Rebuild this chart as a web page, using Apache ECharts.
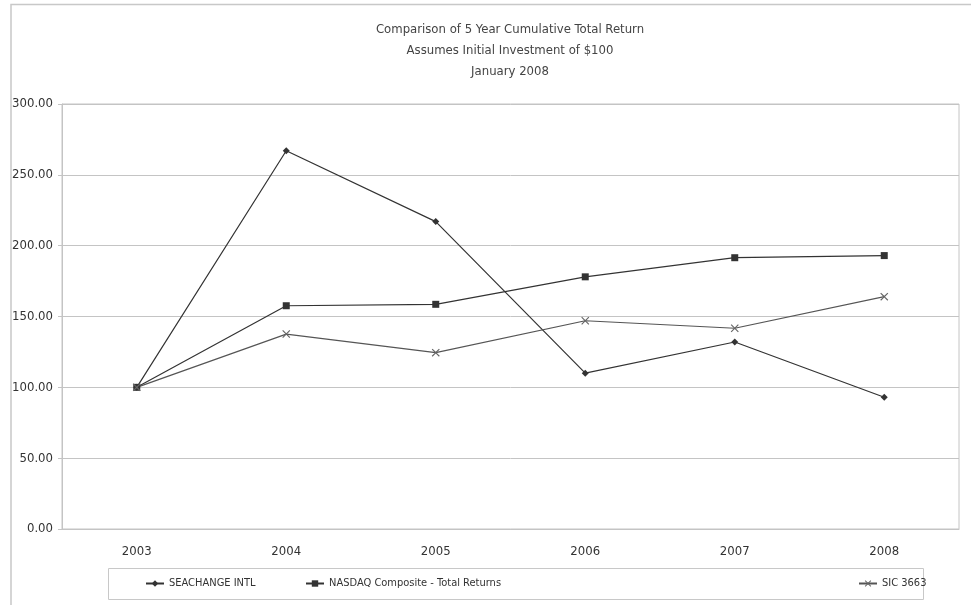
<!DOCTYPE html>
<html lang="en">
<head>
    <meta charset="UTF-8">
    <title>5 Year Cumulative Total Return</title>
    <script src="https://cdn.jsdelivr.net/npm/echarts@6/dist/echarts.min.js"></script>
    <style>
        html, body { margin: 0; padding: 0; background: #fff; }
        #chart { width: 971px; height: 605px; }
    </style>
</head>
<body>
<div id="chart"></div>
<script type="text/javascript">
    // values
    var years = ['2003', '2004', '2005', '2006', '2007', '2008'];
    var seachange = [100, 267, 217, 110, 132, 93];
    var nasdaq = [100, 157.6, 158.6, 178, 191.5, 193];
    var sic3663 = [100, 137.6, 124.5, 147, 141.7, 164];
    var seriesNames = ['SEACHANGE INTL', 'NASDAQ Composite - Total Returns', 'SIC 3663'];

    var font = '"Liberation Sans Narrow", "DejaVu Sans Condensed", sans-serif';
    var gridColor = '#c4c4c4';
    var ink = '#333';
    var xShape = 'path://M0,1L1,0L5,4L9,0L10,1L6,5L10,9L9,10L5,6L1,10L0,9L4,5Z';

    var legendBase = {
        top: 578,
        itemWidth: 18,
        itemHeight: 8,
        padding: 0,
        textStyle: { fontFamily: font, fontSize: 11, color: ink },
        itemGap: 2
    };

    var option = {
        animation: false,
        title: {
            text: 'Comparison of 5 Year Cumulative Total Return\nAssumes Initial Investment of $100\nJanuary 2008',
            left: 505,
            top: 14,
            textAlign: 'center',
            textStyle: { fontFamily: font, fontSize: 13, fontWeight: 'normal', color: '#444', lineHeight: 21 }
        },
        graphic: [
            { type: 'rect', shape: { x: 11, y: 4.5, width: 1000, height: 700 }, style: { fill: 'none', stroke: '#c8c8c8', lineWidth: 1.5 }, silent: true },
            { type: 'rect', shape: { x: 108.5, y: 568.5, width: 815, height: 31 }, style: { fill: 'none', stroke: '#c8c8c8', lineWidth: 1 }, silent: true }
        ],
        legend: [
            Object.assign({ left: 145, data: [seriesNames[0]] }, legendBase),
            Object.assign({ left: 305, data: [seriesNames[1]] }, legendBase),
            Object.assign({ left: 858, data: [seriesNames[2]] }, legendBase)
        ],
        grid: {
            left: 62, right: 12, top: 104, bottom: 76,
            show: true, borderColor: gridColor, borderWidth: 1
        },
        xAxis: [
            {
                type: 'category',
                data: years,
                axisLine: { lineStyle: { color: gridColor } },
                axisTick: { inside: true, length: 4, lineStyle: { color: gridColor } },
                axisLabel: { fontFamily: font, fontSize: 13, color: ink, margin: 16 }
            },
            {
                type: 'category',
                data: years,
                position: 'bottom',
                axisLine: { show: false },
                axisTick: { inside: true, length: 4, alignWithLabel: true, lineStyle: { color: gridColor } },
                axisLabel: { show: false }
            }
        ],
        yAxis: {
            type: 'value',
            min: 0,
            max: 300,
            interval: 50,
            axisLine: { show: true, lineStyle: { color: gridColor } },
            axisTick: { show: true, length: 4, lineStyle: { color: gridColor } },
            splitLine: { lineStyle: { color: gridColor } },
            axisLabel: {
                fontFamily: font, fontSize: 13, color: ink, margin: 9,
                formatter: function (v) { return v.toFixed(2); }
            }
        },
        series: [
            {
                name: seriesNames[0], type: 'line', data: seachange,
                symbol: 'diamond', symbolSize: 7,
                lineStyle: { color: ink, width: 1.2 },
                itemStyle: { color: ink }
            },
            {
                name: seriesNames[1], type: 'line', data: nasdaq,
                symbol: 'rect', symbolSize: 7,
                lineStyle: { color: ink, width: 1.2 },
                itemStyle: { color: ink }
            },
            {
                name: seriesNames[2], type: 'line', data: sic3663,
                symbol: xShape, symbolSize: 8,
                lineStyle: { color: '#555', width: 1.2 },
                itemStyle: { color: '#666' }
            }
        ]
    };

    var myChart = echarts.init(document.getElementById('chart'));
    myChart.setOption(option);
</script>
</body>
</html>
